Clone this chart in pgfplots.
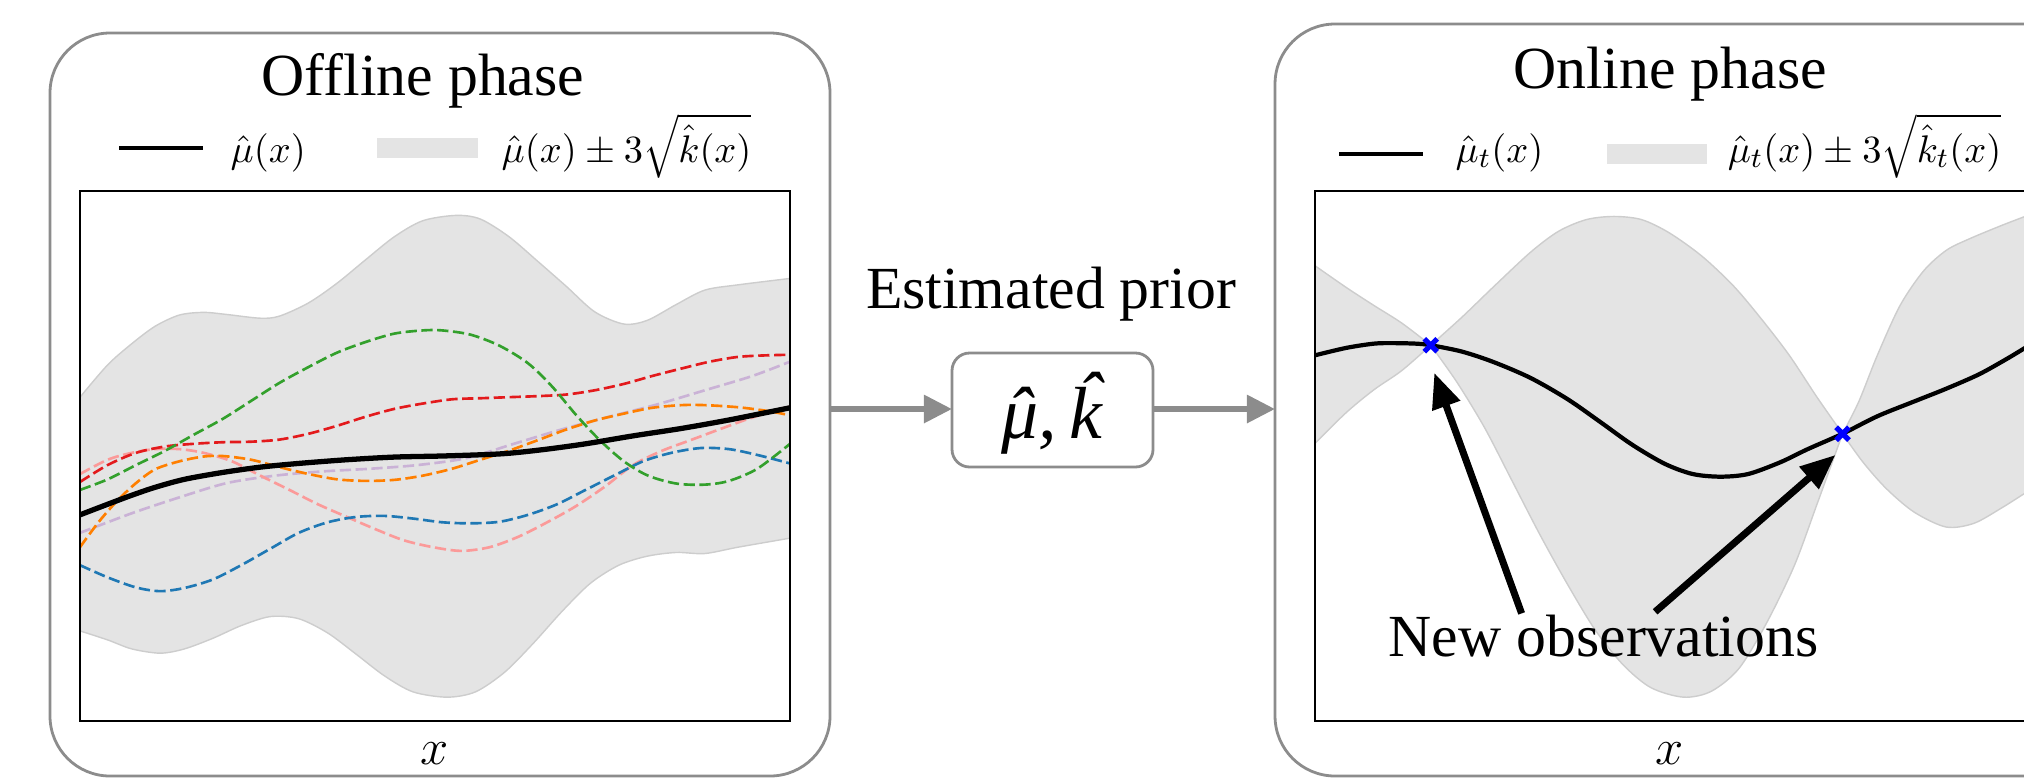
\documentclass[border=0pt]{standalone}
\usepackage{pgfplots}
\pgfplotsset{compat=1.18}
\usepgfplotslibrary{fillbetween}
\usetikzlibrary{arrows.meta}
\usepackage{fontspec}
\setmainfont{Liberation Serif}
\newfontfamily\timesit{Liberation Serif Italic}
\definecolor{bandgray}{HTML}{E4E4E4}
\definecolor{bandedge}{HTML}{CDCDCD}
\definecolor{boxgray}{HTML}{8C8C8C}
\definecolor{cblue}{HTML}{1F78B4}
\definecolor{corange}{HTML}{FF7F00}
\definecolor{cgreen}{HTML}{33A02C}
\definecolor{cred}{HTML}{E31A1C}
\definecolor{cpink}{HTML}{FB9A99}
\definecolor{clav}{HTML}{CAB2D6}
\pgfplotsset{
  gpaxis/.style={
    anchor=south west, width=71mm, height=53mm, scale only axis,
    xmin=0, xmax=100, ymin=0, ymax=100,
    ticks=none, axis on top,
    axis line style={black, line width=0.6pt},
    xlabel={$x$},
    xlabel style={at={(axis description cs:0.5,0)}, anchor=center, yshift=-9.2pt, font=\fontsize{15}{15}\selectfont},
  },
  sample/.style={smooth, line width=0.75pt, dash pattern=on 3.2pt off 1.3pt},
}
\begin{document}
\begin{tikzpicture}
\begin{scope}[x=0.1mm,y=-0.1mm]
  % panels
  \draw[boxgray, line width=0.8pt, rounded corners=6mm] (50,33) rectangle (830,776);
  \draw[boxgray, line width=0.8pt, rounded corners=6mm] (2030,24) -- (1275,24) -- (1275,776) -- (2030,776);
  % titles
  \node[anchor=base, inner sep=0] at (423,95) {\fontsize{17}{17}\selectfont Offline phase};
  \node[anchor=base, inner sep=0] at (1670,88) {\fontsize{17}{17}\selectfont Online phase};
  \node[anchor=base, inner sep=0] at (1051,308) {\fontsize{17}{17}\selectfont Estimated prior};
  % connector
  \draw[boxgray, line width=1.7pt, -{Triangle[length=8pt,width=7.7pt]}] (830,409) -- (952,409);
  \draw[boxgray, line width=1.7pt, -{Triangle[length=8pt,width=7.7pt]}] (1153,409) -- (1275,409);
  \draw[boxgray, line width=0.8pt, rounded corners=5pt, fill=white] (952,353) rectangle (1153,467);
  \node[anchor=base, inner sep=0] at (1052,438) {\fontsize{21}{21}\selectfont\timesit \accent"02C6 μ,\,\accent"02C6 k};
  % legends
  \draw[black, line width=1.4pt] (119,148) -- (203,148);
  \fill[bandgray] (377,138) rectangle (478,158);
  \node[anchor=base west, inner sep=0] at (230,162) {\fontsize{11}{13}\selectfont $\hat{\mu}(x)$};
  \node[anchor=base west, inner sep=0] at (501,162) {\fontsize{11}{13}\selectfont $\hat{\mu}(x)\pm 3\sqrt{\hat{k}(x)}$};
  \draw[black, line width=1.4pt] (1339,154) -- (1423,154);
  \fill[bandgray] (1607,144) rectangle (1707,164);
  \node[anchor=base west, inner sep=0] at (1455,162) {\fontsize{11}{13}\selectfont $\hat{\mu}_t(x)$};
  \node[anchor=base west, inner sep=0] at (1727,162) {\fontsize{11}{13}\selectfont $\hat{\mu}_t(x)\pm 3\sqrt{\hat{k}_t(x)}$};
\end{scope}

% ---------------- Offline phase ----------------
\begin{axis}[gpaxis, at={(8mm,-72.1mm)}]
\addplot[draw=none, name path=up, smooth] coordinates {(0,61.1) (3.9,67.2) (7.3,71.2) (10.6,74.5) (14.0,76.6) (17.4,77.1) (20.7,76.7) (25.4,76.0) (28.1,76.4) (32.2,78.9) (36.2,82.6) (40.2,87.0) (44.3,91.4) (48.3,94.4) (53.0,95.4) (56.4,94.7) (60.4,91.4) (64.5,86.7) (68.5,82.0) (72.5,77.2) (76.6,74.9) (79.9,75.6) (84.0,78.6) (88.0,81.3) (92.7,82.3) (100,83.5)};
\addplot[draw=none, name path=lo, smooth] coordinates {(0,17.0) (3.9,15.3) (7.3,13.6) (11.3,12.8) (14.7,13.6) (18.7,15.6) (22.7,18.0) (26.8,19.7) (30.8,19.3) (34.9,16.6) (38.9,12.6) (42.9,8.5) (46.9,5.5) (51.7,4.5) (55.7,5.5) (59.8,9.2) (63.8,14.6) (67.9,20.7) (71.9,26.0) (75.9,29.4) (79.9,31.1) (84.0,31.8) (88.0,31.6) (92.7,32.8) (100,34.5)};
\addplot[fill=bandgray, draw=bandedge, line width=0.4pt] fill between[of=up and lo];
% samples
\addplot[sample, color=clav] coordinates {(0,35.5) (7.3,39.2) (14.0,42.2) (20.7,44.9) (27.5,46.3) (34.2,47.1) (40.9,47.6) (47.6,48.3) (54.4,49.6) (61.1,52.3) (67.8,55.0) (74.5,57.4) (81.2,59.7) (88.0,62.4) (94.7,65.1) (100,67.8)};
\addplot[sample, color=cpink] coordinates {(0,46.6) (3.9,49.3) (7.3,50.6) (10.6,51.3) (14.0,51.3) (17.4,50.6) (21.4,49.0) (25.4,46.3) (29.5,43.6) (33.5,40.9) (37.6,38.5) (41.6,36.2) (45.6,34.1) (49.7,32.8) (53.7,32.1) (57.7,32.8) (61.8,34.8) (65.8,37.5) (69.8,40.5) (73.9,44.2) (77.9,48.3) (82.0,51.0) (86.0,53.0) (90.0,55.0) (94.1,57.0) (98.1,58.7) (100,59.3)};
\addplot[sample, color=cblue] coordinates {(0,29.4) (3.9,27.1) (7.9,25.2) (11.3,24.5) (14.7,25.1) (18.7,26.7) (22.7,29.4) (26.8,32.5) (30.8,35.5) (34.9,37.5) (38.9,38.5) (42.9,38.7) (46.9,38.2) (51.0,37.5) (55.0,37.3) (59.1,37.6) (63.1,38.9) (67.2,40.9) (71.2,43.6) (75.2,46.3) (79.3,49.0) (83.3,50.6) (87.4,51.5) (91.4,51.3) (95.4,50.2) (100,48.6)};
\addplot[sample, color=corange] coordinates {(0,32.8) (2.6,37.5) (5.2,41.5) (7.9,44.9) (10.6,47.5) (14.0,49.0) (17.4,49.9) (20.1,50.0) (24.1,49.3) (28.1,47.9) (32.2,46.6) (36.2,45.6) (40.2,45.3) (44.3,45.5) (48.3,46.3) (52.4,47.6) (56.4,49.3) (60.4,51.0) (64.5,53.0) (68.5,55.0) (72.5,56.7) (76.6,58.0) (80.6,59.1) (84.7,59.6) (88.0,59.6) (92.7,59.2) (96.8,58.5) (100,57.7)};
\addplot[sample, color=cred] coordinates {(0,45.1) (3.9,48.3) (7.9,50.6) (12.0,51.8) (16.0,52.3) (20.1,52.6) (24.1,52.7) (28.1,53.1) (32.2,54.2) (36.2,55.7) (40.2,57.4) (44.3,58.9) (48.3,59.9) (52.4,60.7) (56.4,60.9) (60.4,61.1) (64.5,61.3) (68.5,61.6) (72.5,62.4) (76.6,63.6) (80.6,65.1) (84.7,66.5) (88.7,67.8) (92.7,68.7) (96.8,69.0) (100,69.1)};
\addplot[sample, color=cgreen] coordinates {(0,43.6) (3.9,45.6) (7.9,48.3) (12.0,51.0) (16.0,54.0) (20.1,57.0) (24.1,60.4) (28.1,63.8) (32.2,66.8) (36.2,69.5) (40.2,71.5) (44.3,73.1) (48.3,73.7) (51.0,73.7) (55.0,72.9) (59.1,70.8) (63.1,67.5) (66.5,63.1) (69.9,57.7) (73.2,53.0) (76.6,49.0) (80.0,46.3) (84.0,44.8) (88.0,44.6) (91.4,45.3) (95.4,47.6) (100,52.3)};
% mean
\addplot[smooth, black, line width=1.5pt] coordinates {(0,38.9) (3.9,40.9) (7.3,42.6) (10.6,44.1) (14.7,45.6) (20.1,46.9) (25.4,47.9) (30.8,48.6) (37.6,49.3) (44.3,49.8) (51.0,50.0) (57.7,50.3) (61.1,50.6) (65.8,51.3) (71.2,52.3) (77.9,53.8) (84.7,55.2) (91.4,56.8) (100,59.1)};
\end{axis}

% ---------------- Online phase ----------------
\begin{axis}[gpaxis, at={(131.5mm,-72.1mm)}]
\addplot[draw=none, name path=ua, smooth] coordinates {(0,85.9) (4.4,81.8) (8.3,78.4) (12.2,75.1) (16.3,70.9)};
\addplot[draw=none, name path=la, smooth] coordinates {(0,52.4) (4.4,58.2) (8.3,62.5) (12.2,66.1) (16.3,70.9)};
\addplot[fill=bandgray, draw=bandedge, line width=0.4pt] fill between[of=ua and la];
\addplot[draw=none, name path=ub, smooth] coordinates {(16.3,70.9) (20.7,76.2) (25.2,82.0) (30.4,88.5) (34.3,92.4) (38.2,94.6) (42.1,95.2) (46.0,94.6) (49.9,92.1) (54.5,87.7) (59.0,82.0) (62.9,75.8) (66.8,69.0) (70.7,61.1) (74.3,54.2)};
\addplot[draw=none, name path=lb, smooth] coordinates {(16.3,70.9) (20.0,63.9) (23.9,55.3) (27.8,45.2) (31.7,35.1) (35.6,25.7) (39.5,17.1) (43.4,10.6) (47.3,6.3) (51.9,4.5) (55.8,5.6) (59.7,9.9) (63.6,18.5) (67.5,29.3) (70.7,40.9) (74.3,54.2)};
\addplot[fill=bandgray, draw=bandedge, line width=0.4pt] fill between[of=ub and lb];
\addplot[draw=none, name path=uc, smooth] coordinates {(74.3,54.2) (76.6,60.3) (79.2,69.0) (82.4,78.4) (85.7,84.9) (88.9,88.8) (92.2,91.0) (96.7,93.5) (100,95.2)};
\addplot[draw=none, name path=lc, smooth] coordinates {(74.3,54.2) (77.2,48.8) (80.5,43.8) (84.4,39.4) (88.9,36.6) (92.8,37.3) (96.7,40.2) (100,43.0)};
\addplot[fill=bandgray, draw=bandedge, line width=0.4pt] fill between[of=uc and lc];
% posterior mean
\addplot[smooth, black, line width=1.2pt] coordinates {(0,69.0) (4.4,70.4) (8.3,71.2) (10.9,71.3) (14.2,71.2) (16.3,70.9) (20.7,69.7) (25.2,67.7) (30.4,64.7) (35.6,60.7) (40.2,56.4) (44.7,52.1) (49.3,48.5) (53.2,46.6) (57.1,46.1) (61.0,46.6) (65.5,48.8) (69.4,51.3) (74.3,54.2) (79.2,57.5) (84.4,60.3) (88.9,62.7) (93.5,65.4) (97.4,68.3) (100,70.4)};
% observations
\addplot[only marks, mark=x, mark size=2.6pt, color=blue, line width=1.5pt] coordinates {(16.3,70.9) (74.3,54.2)};
% annotation arrows
\draw[black, line width=2pt, -{Triangle[length=10pt,width=8pt]}] (axis cs:29.1,20.3) -- (axis cs:16.8,65.7);
\draw[black, line width=2pt, -{Triangle[length=10pt,width=8pt]}] (axis cs:47.9,20.6) -- (axis cs:73.3,50.2);
\end{axis}

\begin{scope}[x=0.1mm,y=-0.1mm]
  \node[anchor=base west, inner sep=0] at (1388,656) {\fontsize{17}{17}\selectfont New observations};
\end{scope}
\pgfresetboundingbox
\path[use as bounding box] (0,0) rectangle (202.4mm,-77.9mm);
\end{tikzpicture}
\end{document}
